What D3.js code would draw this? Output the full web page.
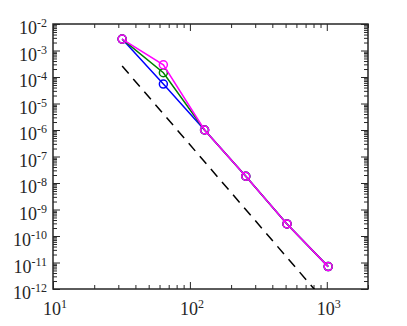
<!DOCTYPE html>
<html lang="en">
<head>
<meta charset="UTF-8">
<title>Convergence</title>
<style>
  body { margin: 0; padding: 0; background: #fff; }
  .tick line { stroke: #262626; }
  .lbl { font-family: "Liberation Serif", "Times New Roman", serif; font-size: 18px; fill: #262626; }
</style>
</head>
<body>
<svg id="chart" width="407" height="326"></svg>
<script src="https://d3js.org/d3.v7.min.js"></script>
<script>
// grid sizes
var N = [32, 64, 128, 256, 512, 1024];
// error series
var errMagenta = [2.7e-3, 2.9e-4, 1.0e-6, 1.8e-8, 2.85e-10, 7e-12];
var errGreen   = [2.7e-3, 1.45e-4, 1.0e-6, 1.8e-8, 2.85e-10, 7e-12];
var errBlue    = [2.7e-3, 5.4e-5, 1.0e-6, 1.8e-8, 2.85e-10, 7e-12];
// reference slope line (order 6)
var refN = [32, 1024];
var refErr = [2.6e-4, 2.6e-4 * Math.pow(32 / 1024, 6)];
// major ticks
var xDecades = [1, 2, 3];
var yDecades = [-2, -3, -4, -5, -6, -7, -8, -9, -10, -11, -12];

var margin = { top: 24, left: 53 };
var width = 315, height = 265;

var svg = d3.select('#chart');
var g = svg.append('g').attr('transform', 'translate(' + margin.left + ',' + margin.top + ')');

var x = d3.scaleLog().domain([10, 2000]).range([0, width]);
var y = d3.scaleLog().domain([1e-12, 1e-2]).range([height, 0]);

// minor tick values
var xMinor = [];
for (var d = 1; d <= 3; d++) for (var k = 2; k <= 9; k++) { var v = k * Math.pow(10, d); if (v <= 2000) xMinor.push(v); }
var yMinor = [];
for (var e = -12; e < -2; e++) for (var k2 = 2; k2 <= 9; k2++) yMinor.push(k2 * Math.pow(10, e));
var xMajor = xDecades.map(function (p) { return Math.pow(10, p); });
var yMajor = yDecades.map(function (p) { return Math.pow(10, p); });

function addAxis(axis, tr) {
  var a = g.append('g').attr('transform', tr).call(axis);
  a.select('.domain').remove();
  a.selectAll('text').remove();
  a.selectAll('line').attr('stroke', '#262626').attr('stroke-width', 1);
}
// bottom / top
addAxis(d3.axisBottom(x).tickValues(xMinor).tickSize(-4).tickSizeOuter(0), 'translate(0,' + height + ')');
addAxis(d3.axisBottom(x).tickValues(xMajor).tickSize(-7).tickSizeOuter(0), 'translate(0,' + height + ')');
addAxis(d3.axisTop(x).tickValues(xMinor).tickSize(-4).tickSizeOuter(0), 'translate(0,0)');
addAxis(d3.axisTop(x).tickValues(xMajor).tickSize(-7).tickSizeOuter(0), 'translate(0,0)');
// left / right
addAxis(d3.axisLeft(y).tickValues(yMinor).tickSize(-4).tickSizeOuter(0), 'translate(0,0)');
addAxis(d3.axisLeft(y).tickValues(yMajor).tickSize(-7).tickSizeOuter(0), 'translate(0,0)');
addAxis(d3.axisRight(y).tickValues(yMinor).tickSize(-4).tickSizeOuter(0), 'translate(' + width + ',0)');
addAxis(d3.axisRight(y).tickValues(yMajor).tickSize(-7).tickSizeOuter(0), 'translate(' + width + ',0)');

// box
g.append('rect').attr('width', width).attr('height', height)
  .attr('fill', 'none').attr('stroke', '#262626').attr('stroke-width', 1.5);

// tick labels
xDecades.forEach(function (p) {
  var t = g.append('text').attr('class', 'lbl')
    .attr('x', x(Math.pow(10, p)) + 2).attr('y', height + 26)
    .attr('text-anchor', 'middle');
  t.append('tspan').text('10');
  t.append('tspan').attr('dy', -7).attr('font-size', 12).text(p);
});
yDecades.forEach(function (p) {
  var t = g.append('text').attr('class', 'lbl')
    .attr('x', -6).attr('y', y(Math.pow(10, p)) + 10)
    .attr('text-anchor', 'end');
  t.append('tspan').text('10');
  t.append('tspan').attr('dy', -7).attr('font-size', 12).text(p);
});

// clip
svg.append('defs').append('clipPath').attr('id', 'clip')
  .append('rect').attr('width', width).attr('height', height);
var plot = g.append('g').attr('clip-path', 'url(#clip)');

var line = d3.line().x(function (d) { return x(d[0]); }).y(function (d) { return y(d[1]); });

plot.append('path').datum(d3.zip(refN, refErr)).attr('d', line)
  .attr('fill', 'none').attr('stroke', '#000').attr('stroke-width', 1.5)
  .attr('stroke-dasharray', '10,7');

var series = [
  { vals: errBlue, color: '#0000ff' },
  { vals: errGreen, color: '#008000' },
  { vals: errMagenta, color: '#ff00ff' }
];
series.forEach(function (s) {
  var pts = d3.zip(N, s.vals);
  plot.append('path').datum(pts).attr('d', line)
    .attr('fill', 'none').attr('stroke', s.color).attr('stroke-width', 1.5);
  plot.selectAll(null).data(pts).enter().append('circle')
    .attr('cx', function (d) { return x(d[0]); })
    .attr('cy', function (d) { return y(d[1]); })
    .attr('r', 4).attr('fill', 'none')
    .attr('stroke', s.color).attr('stroke-width', 1.5);
});
</script>
</body>
</html>
